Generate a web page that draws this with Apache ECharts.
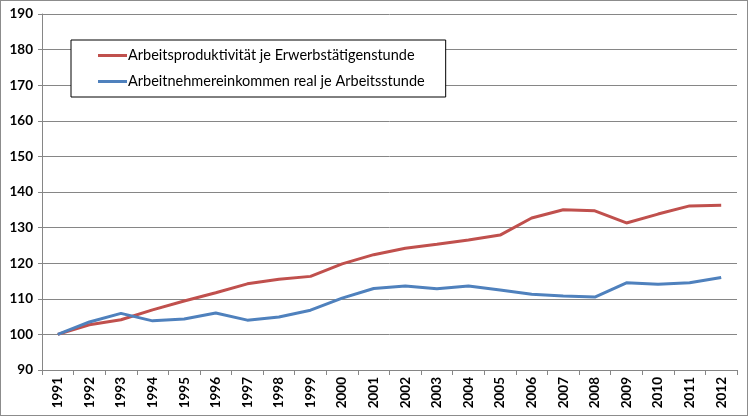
<!DOCTYPE html>
<html style="height: 100%">

<head>
    <meta charset="utf-8">
    <script src="https://cdn.jsdelivr.net/npm/echarts@6/dist/echarts.min.js"></script>
</head>

<body style="height: 100%; margin: 0; background: #fff">
    <div id="main" style="width:748px;height:416px;box-sizing:border-box;border:1px solid #8c8c8c;"></div>
    <script type="text/javascript">
    // Daten (Index 1991 = 100)
    var years = ['1991', '1992', '1993', '1994', '1995', '1996', '1997', '1998', '1999', '2000', '2001',
        '2002', '2003', '2004', '2005', '2006', '2007', '2008', '2009', '2010', '2011', '2012'];
    var produktivitaet = [100, 102.7, 104.1, 106.9, 109.4, 111.7, 114.2, 115.5, 116.3, 119.8, 122.4,
        124.2, 125.3, 126.5, 127.9, 132.7, 135.0, 134.7, 131.3, 133.8, 136.1, 136.3];
    var einkommen = [100, 103.5, 105.9, 103.8, 104.3, 106.0, 104.0, 104.9, 106.8, 110.2, 112.9,
        113.6, 112.8, 113.6, 112.5, 111.3, 110.8, 110.5, 114.5, 114.1, 114.5, 116.0];
    var seriesNames = ['Arbeitsproduktivität je Erwerbstätigenstunde', 'Arbeitnehmereinkommen real je Arbeitsstunde'];

    var myChart = echarts.init(document.getElementById('main'));
    var font = 'Lato, "Open Sans", sans-serif';

    var option = {
        animation: false,
        grid: { left: 41, right: 10, top: 13, bottom: 45 },
        legend: {
            orient: 'vertical',
            left: 70,
            top: 39,
            padding: [8, 21, 8, 27],
            itemGap: 11,
            itemWidth: 29,
            itemHeight: 3,
            icon: 'rect',
            backgroundColor: '#fff',
            borderColor: '#000',
            borderWidth: 1,
            borderRadius: 0,
            textStyle: { fontFamily: font, fontSize: 14.5, color: '#000', padding: [0, 0, 0, -4] },
            data: seriesNames
        },
        xAxis: {
            type: 'category',
            data: years,
            boundaryGap: true,
            axisLine: { lineStyle: { color: '#868686' } },
            axisTick: { show: true, length: 5, lineStyle: { color: '#868686' } },
            axisLabel: { rotate: 90, fontFamily: font, fontWeight: 'bold', fontSize: 13.5, color: '#000', margin: 7 }
        },
        yAxis: {
            type: 'value',
            min: 90,
            max: 190,
            interval: 10,
            axisLine: { show: true, lineStyle: { color: '#868686' } },
            axisTick: { show: true, length: 4, lineStyle: { color: '#868686' } },
            axisLabel: { fontFamily: font, fontWeight: 'bold', fontSize: 13.5, color: '#000', margin: 9 },
            splitLine: { lineStyle: { color: '#868686' } }
        },
        series: [{
            name: seriesNames[0],
            type: 'line',
            data: produktivitaet,
            symbol: 'none',
            lineStyle: { color: '#C0504D', width: 3 },
            itemStyle: { color: '#C0504D' }
        }, {
            name: seriesNames[1],
            type: 'line',
            data: einkommen,
            symbol: 'none',
            lineStyle: { color: '#4F81BD', width: 3 },
            itemStyle: { color: '#4F81BD' }
        }]
    };

    myChart.setOption(option, true);
    </script>
</body>

</html>
